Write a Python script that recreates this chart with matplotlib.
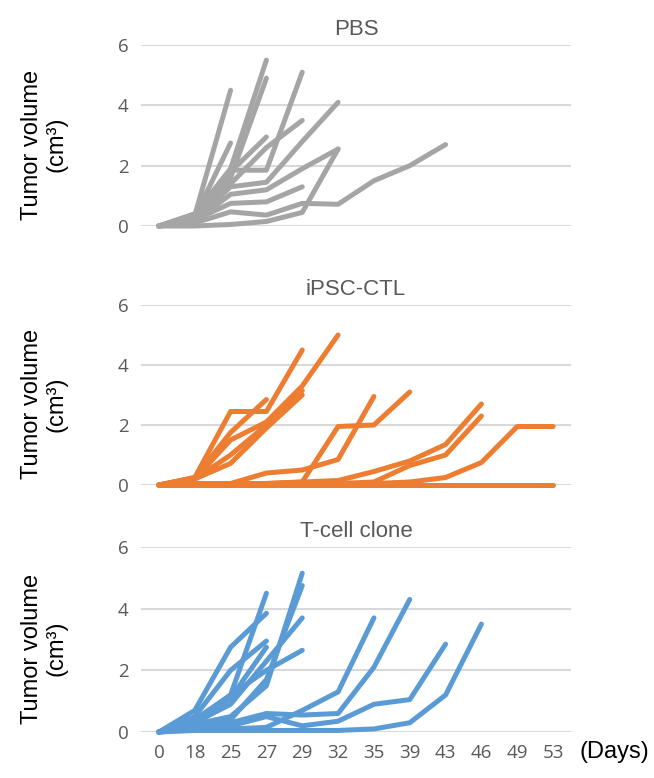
import numpy as np
import matplotlib
matplotlib.use("Agg")
import matplotlib.pyplot as plt

days = ["0", "18", "25", "27", "29", "32", "35", "39", "43", "46", "49", "53"]
titles = ["PBS", "iPSC-CTL", "T-cell clone"]
colors = ["#A5A5A5", "#ED7D31", "#5B9BD5"]

# tumour volume per mouse, one list per mouse, starting at day 0
pbs = [
    [0, 0.35, 4.5],
    [0, 0.3, 2.75],
    [0, 0.4, 1.9, 5.5],
    [0, 0.4, 1.6, 4.9],
    [0, 0.3, 1.8, 2.95],
    [0, 0.25, 1.85, 1.85, 5.1],
    [0, 0.3, 1.4, 2.6, 3.5],
    [0, 0.2, 1.3, 1.45, 2.8, 4.1],
    [0, 0.15, 1.05, 1.2, 1.9, 2.55],
    [0, 0.0, 0.05, 0.15, 0.45, 2.55],
    [0, 0.1, 0.47, 0.36, 0.75, 0.72, 1.5, 2.0, 2.7],
    [0, 0.2, 0.75, 0.8, 1.3],
]
ipsc = [
    [0, 0.25, 2.45, 2.45, 4.5],
    [0, 0.25, 1.75, 2.85],
    [0, 0.2, 1.5, 2.1, 3.3, 5.0],
    [0, 0.2, 1.0, 2.0, 3.15],
    [0, 0.2, 0.72, 1.9, 3.0],
    [0, 0.05, 0.05, 0.4, 0.5, 0.85, 2.95],
    [0, 0.05, 0.05, 0.05, 0.1, 1.95, 2.0, 3.1],
    [0, 0.05, 0.05, 0.05, 0.1, 0.15, 0.45, 0.8, 1.35, 2.7],
    [0, 0.05, 0.05, 0.05, 0.05, 0.05, 0.1, 0.65, 1.0, 2.3],
    [0, 0, 0, 0, 0, 0.05, 0.05, 0.1, 0.25, 0.75, 1.95, 1.95],
    [0, 0, 0, 0, 0, 0, 0, 0, 0, 0, 0, 0],
]
tcell = [
    [0, 0.35, 1.2, 4.5],
    [0, 0.7, 2.75, 3.85],
    [0, 0.5, 2.0, 2.95],
    [0, 0.3, 1.1, 2.75],
    [0, 0.25, 0.5, 1.5, 5.15],
    [0, 0.2, 0.4, 1.7, 4.75],
    [0, 0.3, 0.9, 2.3, 3.7],
    [0, 0.4, 1.2, 2.0, 2.65],
    [0, 0.1, 0.1, 0.15, 0.7, 1.3, 3.7],
    [0, 0.15, 0.3, 0.6, 0.55, 0.6, 2.1, 4.3],
    [0, 0.1, 0.2, 0.5, 0.2, 0.35, 0.9, 1.05, 2.85],
    [0, 0.05, 0.05, 0.05, 0.05, 0.05, 0.1, 0.3, 1.2, 3.5],
]
groups = [pbs, ipsc, tcell]

fig = plt.figure(figsize=(6.54, 7.78), dpi=100)
W, H = 654, 778
left, right = 141, 571
panels = [(45, 226), (305, 485), (547, 732)]

tick_font = "Open Sans"
for k, (top, bot) in enumerate(panels):
    ax = fig.add_axes([left / W, 1 - bot / H, (right - left) / W, (bot - top) / H])
    for mouse in groups[k]:
        ax.plot(range(len(mouse)), mouse, color=colors[k], lw=3.6,
                solid_capstyle="round", solid_joinstyle="round", clip_on=False, zorder=3)
    ax.set_xlim(-0.5, len(days) - 0.5)
    ax.set_ylim(0, 6)
    ax.set_yticks([0, 2, 4, 6])
    ax.set_xticks(range(len(days)))
    ax.grid(axis="y", color="#D9D9D9", lw=1.5, zorder=0)
    ax.grid(axis="x", visible=False)
    for s in ax.spines.values():
        s.set_visible(False)
    ax.tick_params(length=0, pad=9, labelsize=13.5, labelcolor="#595959")
    for lab in ax.get_yticklabels():
        lab.set_fontfamily(tick_font)
    if k == 2:
        ax.set_xticklabels(days, fontfamily=tick_font)
        ax.tick_params(axis="x", pad=9)
        ax.text(1.1, -0.11, "(Days)", transform=ax.transAxes, ha="center", va="center",
                fontsize=17, family="Liberation Sans", color="black")
    else:
        ax.set_xticklabels([])
    ax.set_title(titles[k], fontsize=16, color="#595959", family="Liberation Sans", pad=7)
    ax.text(-0.225, 0.45, "Tumor volume\n(cm³)", transform=ax.transAxes, rotation=90,
            ha="center", va="center", multialignment="center", fontsize=17,
            family="Liberation Sans", color="black", linespacing=1.1)

fig.savefig("out.png", dpi=100)
